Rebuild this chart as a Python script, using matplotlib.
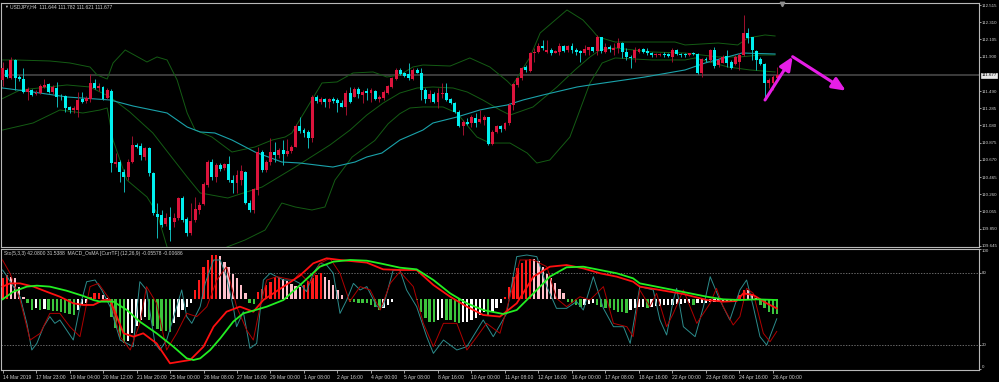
import numpy as np
import matplotlib
matplotlib.use('Agg')
import matplotlib.pyplot as plt
import matplotlib.transforms as mtransforms

plt.rcParams['font.family'] = ['Liberation Sans', 'DejaVu Sans']

# ---------------- data: USDJPY H4 candles ----------------
opens = [
    111.621, 111.740, 111.641, 111.860, 111.653, 111.633, 111.478, 111.502, 111.454, 111.470,
    111.542, 111.574, 111.478, 111.526, 111.423, 111.430, 111.295, 111.263, 111.263, 111.391,
    111.371, 111.391, 111.589, 111.522, 111.534, 111.403, 111.494, 110.620, 110.644, 110.528,
    110.469, 110.648, 110.846, 110.838, 110.707, 110.807, 110.509, 110.024, 110.012, 109.904,
    109.984, 109.932, 109.972, 110.211, 109.960, 109.801, 109.952, 110.071, 110.143, 110.369,
    110.640, 110.461, 110.608, 110.568, 110.620, 110.429, 110.389, 110.429, 110.528, 110.159,
    110.071, 110.310, 110.767, 110.548, 110.648, 110.767, 110.727, 110.787, 110.739, 110.779,
    110.826, 111.073, 111.025, 111.005, 110.926, 111.423, 111.363, 111.395, 111.363, 111.395,
    111.383, 111.351, 111.303, 111.470, 111.423, 111.510, 111.442, 111.494, 111.462, 111.494,
    111.391, 111.411, 111.470, 111.542, 111.629, 111.740, 111.701, 111.693, 111.633, 111.740,
    111.701, 111.502, 111.391, 111.454, 111.363, 111.454, 111.462, 111.391, 111.351, 111.244,
    111.073, 111.124, 111.105, 111.164, 111.120, 111.144, 111.176, 110.858, 111.005, 111.073,
    111.041, 111.105, 111.323, 111.562, 111.641, 111.780, 111.733, 111.939, 111.959, 112.027,
    111.959, 111.979, 111.947, 111.959, 112.027, 111.979, 112.027, 111.979, 111.967, 111.947,
    111.979, 112.011, 111.971, 112.130, 111.959, 112.011, 111.979, 111.999, 112.058, 111.959,
    111.899, 111.880, 111.959, 111.987, 111.971, 111.947, 111.915, 111.919, 111.935, 111.927,
    111.899, 111.979, 111.935, 111.931, 111.915, 111.947, 111.931, 111.701, 111.876, 111.860,
    111.979, 111.800, 111.828, 111.907, 111.836, 111.812, 111.840, 111.919, 112.178, 112.130,
    111.971, 111.868, 111.812, 111.582, 111.589, 111.644]
highs = [
    111.840, 111.760, 111.899, 111.868, 111.681, 111.760, 111.534, 111.518, 111.502, 111.574,
    111.629, 111.589, 111.562, 111.601, 111.454, 111.442, 111.311, 111.311, 111.482, 111.482,
    111.430, 111.693, 111.629, 111.582, 111.550, 111.522, 111.510, 110.747, 110.667, 110.556,
    110.675, 110.954, 110.874, 110.874, 110.826, 110.826, 110.528, 110.151, 110.071, 110.032,
    110.111, 110.032, 110.230, 110.238, 109.992, 110.151, 110.230, 110.171, 110.409, 110.667,
    110.675, 110.628, 110.636, 110.636, 110.715, 110.489, 110.548, 110.608, 110.540, 110.191,
    110.330, 110.826, 110.787, 110.667, 110.926, 110.886, 110.807, 110.906, 110.914, 110.846,
    111.097, 111.184, 111.045, 111.025, 111.442, 111.442, 111.415, 111.411, 111.411, 111.423,
    111.403, 111.383, 111.502, 111.542, 111.542, 111.542, 111.502, 111.522, 111.522, 111.502,
    111.442, 111.502, 111.562, 111.661, 111.760, 111.760, 111.721, 111.820, 111.760, 111.760,
    111.760, 111.522, 111.502, 111.482, 111.522, 111.582, 111.582, 111.403, 111.363, 111.263,
    111.144, 111.164, 111.204, 111.224, 111.263, 111.204, 111.184, 111.025, 111.085, 111.085,
    111.124, 111.343, 111.582, 111.661, 111.780, 111.800, 111.959, 111.999, 112.058, 112.098,
    112.098, 111.999, 111.979, 112.058, 112.039, 112.039, 112.058, 111.999, 111.979, 112.039,
    112.019, 112.019, 112.158, 112.138, 112.058, 112.039, 112.058, 112.118, 112.078, 111.999,
    111.919, 112.019, 111.999, 111.999, 111.999, 111.959, 111.939, 111.947, 111.959, 111.939,
    111.999, 111.987, 111.947, 111.939, 111.947, 111.959, 111.939, 111.880, 111.899, 111.987,
    112.019, 111.880, 111.919, 111.979, 111.860, 111.919, 111.939, 112.396, 112.237, 112.138,
    111.979, 111.899, 111.820, 111.641, 111.681, 111.782]
lows = [
    111.550, 111.641, 111.629, 111.502, 111.613, 111.470, 111.383, 111.430, 111.442, 111.454,
    111.522, 111.470, 111.454, 111.303, 111.383, 111.244, 111.224, 111.232, 111.184, 111.343,
    111.351, 111.363, 111.510, 111.494, 111.383, 111.391, 110.528, 110.588, 110.409, 110.290,
    110.429, 110.628, 110.807, 110.667, 110.667, 110.477, 110.012, 109.734, 109.873, 109.881,
    109.706, 109.873, 109.952, 109.932, 109.761, 109.773, 109.932, 110.024, 110.131, 110.350,
    110.429, 110.409, 110.540, 110.548, 110.409, 110.270, 110.270, 110.369, 110.143, 110.052,
    110.032, 110.250, 110.528, 110.528, 110.608, 110.648, 110.687, 110.608, 110.715, 110.747,
    110.819, 110.993, 110.946, 110.807, 110.886, 111.343, 111.335, 111.295, 111.283, 111.343,
    111.244, 111.295, 111.204, 111.351, 111.415, 111.403, 111.343, 111.383, 111.363, 111.383,
    111.363, 111.383, 111.454, 111.522, 111.621, 111.681, 111.661, 111.621, 111.621, 111.701,
    111.383, 111.343, 111.363, 111.343, 111.283, 111.403, 111.375, 111.335, 111.232, 111.065,
    110.966, 111.085, 111.065, 111.065, 111.105, 111.085, 110.846, 110.846, 110.985, 111.005,
    111.025, 111.085, 111.263, 111.542, 111.621, 111.721, 111.721, 111.840, 111.939, 111.979,
    111.939, 111.919, 111.939, 111.919, 111.959, 111.959, 111.939, 111.919, 111.840, 111.919,
    111.919, 111.959, 111.919, 111.939, 111.939, 111.959, 111.919, 111.939, 111.880, 111.860,
    111.760, 111.840, 111.939, 111.939, 111.919, 111.899, 111.899, 111.907, 111.899, 111.899,
    111.840, 111.919, 111.899, 111.899, 111.907, 111.919, 111.693, 111.653, 111.840, 111.840,
    111.760, 111.780, 111.820, 111.780, 111.748, 111.800, 111.740, 111.907, 112.058, 111.860,
    111.740, 111.800, 111.383, 111.522, 111.502, 111.621]
closes = [
    111.760, 111.653, 111.860, 111.641, 111.629, 111.482, 111.510, 111.446, 111.470, 111.550,
    111.562, 111.482, 111.534, 111.423, 111.415, 111.283, 111.263, 111.283, 111.383, 111.363,
    111.403, 111.589, 111.522, 111.550, 111.391, 111.502, 110.628, 110.648, 110.528, 110.469,
    110.648, 110.846, 110.826, 110.727, 110.807, 110.509, 110.032, 109.992, 109.893, 109.972,
    109.833, 109.972, 110.211, 109.952, 109.801, 109.944, 110.079, 110.131, 110.381, 110.640,
    110.469, 110.608, 110.556, 110.620, 110.429, 110.389, 110.489, 110.540, 110.159, 110.071,
    110.318, 110.767, 110.548, 110.648, 110.767, 110.727, 110.787, 110.739, 110.779, 110.826,
    111.073, 111.017, 110.993, 110.926, 111.423, 111.371, 111.395, 111.363, 111.395, 111.375,
    111.351, 111.303, 111.470, 111.363, 111.510, 111.454, 111.482, 111.462, 111.502, 111.391,
    111.423, 111.482, 111.550, 111.641, 111.740, 111.693, 111.669, 111.641, 111.740, 111.709,
    111.502, 111.391, 111.454, 111.363, 111.462, 111.470, 111.383, 111.351, 111.244, 111.073,
    111.124, 111.097, 111.176, 111.113, 111.152, 111.184, 110.858, 111.005, 111.073, 111.033,
    111.113, 111.323, 111.574, 111.641, 111.760, 111.740, 111.947, 111.959, 112.027, 111.999,
    111.979, 111.939, 111.967, 112.027, 111.971, 112.027, 111.979, 111.959, 111.939, 111.987,
    112.011, 111.971, 112.130, 111.971, 112.011, 111.987, 111.999, 112.058, 111.959, 111.891,
    111.880, 111.979, 111.987, 111.959, 111.939, 111.919, 111.927, 111.935, 111.915, 111.907,
    111.979, 111.931, 111.915, 111.915, 111.939, 111.931, 111.701, 111.868, 111.860, 111.979,
    111.788, 111.860, 111.899, 111.828, 111.760, 111.891, 111.919, 112.178, 112.118, 111.979,
    111.860, 111.812, 111.582, 111.621, 111.653, 111.677]

# Bollinger bands and moving average (read at sample bars)
bb_up_x = [0, 3.0, 11.3, 16.1, 20.9, 22.6, 25.0, 26.4, 29.3, 34.5, 36.9, 39.3, 41.7, 44.1, 46.0, 50.0,
           54.8, 60.3, 64.4, 67.5, 69.1, 76.3, 79.9, 83.7, 88.5, 91.8, 94.9, 98.0, 100.4, 106.9, 111.6,
           116.4, 120.5, 121.7, 126.0, 128.4, 134.8, 138.6, 140.8, 142.2, 146.3, 155.1, 160.6, 163.0,
           170.9, 175.6, 178.0, 182.1, 184.5]
bb_up = [111.860, 111.860, 111.848, 111.824, 111.776, 111.681, 111.633, 111.824, 111.979, 111.836,
         111.896, 111.860, 111.621, 111.228, 111.025, 110.942, 110.763, 110.823, 110.906, 110.942,
         110.990, 111.586, 111.598, 111.705, 111.717, 111.657, 111.681, 111.776, 111.800, 111.788,
         111.884, 111.776, 111.610, 111.550, 111.896, 112.182, 112.456, 112.337, 112.217, 112.134,
         112.074, 112.074, 112.074, 112.039, 112.062, 112.039, 112.122, 112.158, 112.146]
bb_mid_x = [0, 4.2, 15.4, 20.9, 25.7, 30.4, 35.9, 40.0, 44.1, 47.2, 53.8, 62.0, 69.9, 78.2, 83.0, 87.0,
            90.9, 94.9, 99.0, 102.8, 107.6, 111.0, 114.7, 118.8, 121.2, 126.7, 132.4, 136.7, 140.3,
            142.7, 146.3, 155.1, 163.0, 170.9, 176.1, 180.9, 184.5]
bb_mid = [111.400, 111.502, 111.562, 111.538, 111.419, 111.240, 110.990, 110.727, 110.465, 110.275,
          110.215, 110.346, 110.584, 110.847, 111.025, 111.204, 111.347, 111.466, 111.526, 111.538,
          111.526, 111.478, 111.383, 111.264, 111.204, 111.300, 111.538, 111.741, 111.896, 111.979,
          112.003, 111.955, 111.943, 111.896, 111.896, 111.919, 111.919]
bb_lo_x = [0, 7.3, 13.7, 19.2, 23.3, 25.0, 26.4, 29.7, 34.5, 36.9, 39.3, 41.2, 44.8, 48.4, 50.7, 53.6,
           57.9, 62.7, 66.7, 69.9, 73.9, 77.0, 79.4, 83.5, 88.9, 92.1, 94.9, 97.3, 100.4, 105.2, 108.5,
           113.3, 116.4, 121.2, 125.3, 127.6, 130.7, 135.5, 140.3, 143.2, 146.3, 155.1, 163.0, 165.4,
           173.3, 178.5, 184.5]
bb_lo = [111.025, 111.109, 111.264, 111.228, 111.264, 111.288, 110.906, 110.429, 110.227, 110.036,
         109.631, 109.535, 109.452, 109.452, 109.535, 109.631, 109.714, 109.833, 110.155, 110.108,
         110.072, 110.108, 110.429, 110.704, 110.900, 111.100, 111.220, 111.288, 111.300, 111.300,
         111.228, 110.942, 110.870, 110.870, 110.751, 110.632, 110.668, 110.942, 111.586, 111.824,
         111.884, 111.860, 111.860, 111.884, 111.776, 111.741, 111.717]
ma_x = [0, 7.3, 15.4, 25.7, 31.2, 39.3, 44.1, 47.2, 50.7, 54.8, 60.3, 66.7, 71.0, 78.9, 84.2, 87.0,
        90.6, 94.9, 100.4, 102.8, 108.5, 114.0, 116.4, 120.5, 124.3, 129.1, 137.2, 140.3, 153.4, 163.0,
        167.8, 176.6, 184.5]
ma = [111.526, 111.478, 111.419, 111.383, 111.311, 111.228, 111.061, 111.002, 110.990, 110.906,
      110.763, 110.644, 110.632, 110.584, 110.644, 110.704, 110.751, 110.906, 111.025, 111.109,
      111.180, 111.264, 111.288, 111.323, 111.383, 111.443, 111.538, 111.562, 111.657, 111.741,
      111.824, 111.943, 111.931]

# ---------------- data: lower window ----------------
osma_zero = 58.3
osma = [
    17.5, 20.3, 18.9, 17.5, 10.6, 2.2, -3.3, -8.5, -7.5, -8.5,
    -7.8, -8.6, -9.5, -10.0, -10.8, -11.5, -12.5, -13.0, -9.0, -4.5,
    -3.0, 2.2, 5.0, 5.3, 4.0, 1.0, -14.5, -24.0, -31.0, -36.5,
    -35.0, -28.0, -22.5, -17.0, -14.5, -17.0, -22.5, -25.0, -26.0, -26.5,
    -27.0, -20.0, -14.5, -9.0, -6.0, -3.3, 7.8, 16.0, 27.0, 32.8,
    36.7, 37.0, 36.5, 31.0, 27.0, 21.5, 17.5, 12.0, 5.0, -3.3,
    -3.5, 6.4, 9.0, 12.0, 14.7, 18.9, 19.0, 17.0, 15.0, 13.0,
    11.0, 10.0, 12.0, 15.0, 18.0, 20.5, 22.0, 19.0, 16.0, 12.0,
    8.0, 4.0, 0.5, -2.0, -2.5, -2.8, -3.0, -3.3, -4.7, -6.0,
    -8.9, -7.5, -4.7, -2.0, 0.5, 0.3, 0.6, 0.3, 0.5, -0.5,
    -10.3, -15.8, -18.6, -18.9, -17.5, -15.8, -17.0, -17.2, -18.6, -20.0,
    -18.6, -18.5, -17.2, -15.8, -13.0, -10.3, -13.0, -10.3, -7.5, -3.3,
    2.2, 10.5, 18.9, 25.8, 30.0, 32.8, 34.0, 33.5, 32.0, 27.0,
    21.5, 17.5, 13.3, 9.0, 5.0, -2.0, -3.3, -4.7, -6.0, -5.0,
    -3.5, -3.3, -4.7, -6.0, -7.5, -7.6, -8.9, -10.3, -10.4, -11.7,
    -8.9, -7.5, -6.5, -6.2, -7.0, -6.0, -5.8, -5.6, -4.7, -4.6,
    -4.5, -4.0, -3.9, -3.3, -3.2, -4.5, -3.3, -2.8, -2.7, -2.0,
    -1.9, -1.8, -1.7, -1.4, -1.1, -1.0, 4.0, 7.8, 7.5, 4.0,
    1.0, -5.0, -7.5, -10.3, -12.5, -12.6]

sto_x = [0, 0.6, 2.6, 4.2, 5.8, 7.0, 8.2, 9.8, 11.3, 12.5, 13.7, 15.3, 16.9, 18.5, 20.1, 22.1, 23.7, 25.7,
         28.1, 31.2, 32.8, 34.4, 36.4, 37.6, 39.2, 42.8, 44.0, 45.2, 47.2, 48.4, 50.4, 52.0, 53.5, 55.1,
         55.9, 57.5, 59.1, 60.7, 62.3, 63.9, 67.1, 69.5, 71.0, 72.6, 74.2, 75.8, 77.4, 79.0, 80.6, 82.2,
         83.8, 85.4, 87.0, 89.4, 90.9, 93.3, 94.9, 96.5, 98.9, 101.3, 102.9, 105.3, 108.5, 110.9, 114.8,
         117.2, 120.4, 122.8, 125.2, 127.6, 130.0, 132.3, 134.7, 137.1, 138.7, 141.1, 143.5, 145.9, 148.3,
         149.9, 152.2, 155.4, 157.0, 158.6, 160.2, 161.0, 162.6, 165.4, 167.4, 169.0, 171.3, 173.7, 176.1,
         177.7, 179.3, 180.9, 182.5, 184.9]
sto_main = [82.75, 80, 68.9, 60.5, 38.3, 16.1, 21.6, 35.5, 43.9, 38.3, 41.1, 32.75, 24.4, 52.2, 73, 74.4,
            66.1, 52.2, 24.4, 18.9, 73, 66.1, 21.6, 16.1, 24.4, 66.1, 43.9, 38.3, 52.2, 71.6, 91.1, 91.1,
            77.2, 52.2, 35.5, 48, 17.5, 21.6, 74.4, 80, 74.4, 74.4, 71.6, 64.7, 80, 88.3, 86.9, 80, 46.6,
            57.75, 71.6, 66.1, 68.9, 52.2, 52.2, 82.75, 82.75, 66.1, 52.2, 27.2, 13.3, 24.4, 16.1, 18.9,
            41.1, 27.2, 46.6, 93.9, 95.25, 93.9, 68.9, 50.8, 50.8, 56.4, 49.4, 77.2, 50.8, 35.5, 35.5,
            21.6, 68.9, 66.1, 41.1, 28.6, 57.75, 67.5, 35.5, 27.2, 52.2, 77.2, 57.75, 41.1, 66.1, 74.4,
            52.2, 27.2, 20.2, 42.08]
sig_x = [0, 1.8, 4.2, 6.6, 9.0, 11.3, 13.7, 16.1, 18.5, 20.9, 22.9, 25.7, 28.1, 30.5, 32.8, 34.4, 36.8,
         39.2, 41.6, 44.0, 46.4, 48.8, 51.2, 53.5, 55.9, 58.3, 59.9, 61.5, 63.1, 65.5, 69.5, 71.0, 73.4,
         75.8, 78.2, 80.6, 82.9, 85.4, 87.8, 90.2, 92.6, 94.9, 98.1, 100.5, 102.9, 105.3, 108.5, 110.9,
         113.3, 115.6, 118.8, 121.2, 123.6, 126.8, 130.0, 132.3, 134.7, 137.9, 140.3, 143.5, 145.9, 149.1,
         150.6, 152.2, 154.6, 156.2, 158.6, 160.2, 162.6, 165.8, 169.0, 170.5, 172.1, 174.5, 176.1, 177.7,
         179.3, 181.7, 183.3, 184.9]
sto_sig = [91.1, 80, 57.75, 24.4, 30, 46.6, 46.6, 35.5, 27.2, 68.9, 71.6, 57.75, 27.2, 16.1, 38.3, 68.9,
           55, 16.1, 30, 46.6, 43.9, 52.2, 74.4, 85.5, 52.2, 32.75, 24.4, 52.2, 74.4, 77.2, 74.4, 80, 71.6,
           88.3, 92.5, 80, 56.4, 68.9, 66.1, 49.4, 71.6, 81.4, 68.9, 38.3, 18.9, 38.3, 38.3, 16.1, 27.2,
           38.3, 30, 60.5, 91.1, 91.1, 85.5, 59.1, 52.2, 60.5, 57.75, 68.9, 38.3, 35.5, 27.2, 66.1, 52.2,
           63.3, 35.5, 46.6, 66.1, 38.3, 55, 67.5, 52.2, 36.9, 43.9, 67.5, 63.3, 30, 23, 31.54]
macd_x = [0, 1.8, 4.2, 7.4, 10.5, 13.7, 16.9, 19.3, 21.7, 24.1, 25.7, 28.9, 31.3, 33.6, 36.8, 40.0, 42.4,
          44.8, 48.0, 50.4, 53.5, 56.7, 59.9, 62.3, 67.1, 71.0, 74.2, 77.4, 80.6, 87.0, 90.9, 94.9, 98.9,
          102.9, 106.9, 110.9, 114.8, 118.8, 122.8, 126.8, 130.7, 134.7, 138.7, 142.7, 146.7, 150.6, 152.2,
          157.0, 162.6, 168.2, 172.1, 175.3, 176.9, 179.3, 182.5, 184.9]
macd = [68.9, 71.6, 71.6, 68.9, 64.7, 60.5, 55, 53.6, 53.6, 57.75, 57.75, 30, 27.2, 30, 21.6, 5, 6.4, 7.75,
        18.9, 35.5, 48, 52.2, 48, 57.75, 68.9, 78, 88.3, 92.5, 91.1, 88.9, 83.3, 82.75, 82.75, 70.25, 60.5,
        52.2, 45.25, 43.9, 55, 77.2, 85.5, 86.9, 84.1, 80, 77.2, 73, 68.9, 66.1, 62.75, 57.75, 56.4, 56.9,
        63.3, 61.9, 55, 50.8]
signal_x = [0, 2.6, 5.8, 8.2, 11.3, 15.3, 19.3, 21.7, 23.3, 26.5, 29.7, 32.8, 36.8, 40.8, 44.0, 45.6, 47.2,
            49.6, 52.0, 55.1, 57.5, 59.9, 63.1, 67.1, 71.0, 75.8, 79.0, 83.0, 87.0, 90.9, 94.9, 98.9, 102.9,
            106.9, 110.9, 114.8, 119.6, 122.8, 126.8, 130.7, 134.7, 138.7, 142.7, 146.7, 150.6, 152.2, 160.2,
            164.2, 168.2, 172.1, 176.1, 180.1, 184.9]
signal = [58.3, 64.7, 68.9, 69.7, 68.9, 65.5, 61.1, 57.75, 56.4, 56.4, 49.4, 39.7, 30, 18.9, 9.1, 7.75, 9.1,
          16.1, 25.8, 39.7, 46.6, 48.9, 52.2, 57.75, 70, 85.5, 89.7, 91.1, 90.5, 87.75, 84.7, 83.3, 74.4,
          63.3, 55, 49.4, 46.1, 49.4, 63.3, 77.2, 85, 85.5, 82.75, 80, 75.8, 71.6, 66.1, 63.3, 60.5, 58.3,
          57.75, 58.3, 57.75]

price_ticks = [112.515, 112.310, 112.105, 111.900, 111.490, 111.285, 111.080, 110.875, 110.670,
               110.465, 110.260, 110.055, 109.850, 109.645]
bid = 111.677
time_labels = ['14 Mar 2019', '17 Mar 23:00', '19 Mar 04:00', '20 Mar 12:00', '21 Mar 20:00',
               '25 Mar 00:00', '26 Mar 08:00', '27 Mar 16:00', '29 Mar 00:00', '1 Apr 08:00',
               '2 Apr 16:00', '4 Apr 00:00', '5 Apr 08:00', '8 Apr 16:00', '10 Apr 00:00',
               '11 Apr 08:00', '12 Apr 16:00', '16 Apr 00:00', '17 Apr 08:00', '18 Apr 16:00',
               '22 Apr 00:00', '23 Apr 08:00', '24 Apr 16:00', '26 Apr 00:00']
arrow_up = [(182.1, 111.383), (188.7, 111.899)]
arrow_dn = [(188.7, 111.899), (201.4, 111.494)]

# ---------------- figure ----------------
W, H = 999.0, 382.0
fig = plt.figure(figsize=(9.99, 3.82), dpi=100, facecolor='black')
ax1 = fig.add_axes([1 / W, 1 - 247 / H, 978 / W, 244 / H], facecolor='black')
ax2 = fig.add_axes([1 / W, 1 - 370 / H, 978 / W, 121 / H], facecolor='black')

fg = '#b8b8b8'
txt = '#d0d0d0'
fs = 3.6
fsy = 3.15
for ax in (ax1, ax2):
    ax.set_xlim(-0.36, 233.2)
    for s in ax.spines.values():
        s.set_color(fg)
        s.set_linewidth(0.8)
    ax.yaxis.tick_right()
    ax.tick_params(axis='y', direction='out', length=1.6, width=0.6, colors=fg,
                   labelcolor=txt, labelsize=fsy, pad=0.6)

# ---- main chart ----
ax1.set_ylim(109.631, 112.539)
ax1.set_xticks([])
ax1.set_yticks(price_ticks)
ax1.set_yticklabels(['%.3f' % p for p in price_ticks])

ax1.axhline(bid, color='#3c3c3c', lw=1.4, zorder=1)

ax1.plot(bb_up_x, bb_up, color='#145c14', lw=0.7, zorder=2)
ax1.plot(bb_mid_x, bb_mid, color='#145c14', lw=0.7, zorder=2)
ax1.plot(bb_lo_x, bb_lo, color='#145c14', lw=0.7, zorder=2)
ax1.plot(ma_x, ma, color='#1aa2aa', lw=0.8, zorder=2)

n = len(closes)
idx = np.arange(n)
o = np.array(opens)
c = np.array(closes)
bull = c >= o
body_col = np.where(bull, '#dc143c', '#00f0f0')
wick_col = np.where(bull, '#a0102e', '#10b8b8')
ax1.vlines(idx, lows, highs, colors=wick_col, lw=0.7, zorder=3)
ax1.bar(idx, np.maximum(np.abs(c - o), 0.008), bottom=np.minimum(o, c), width=0.7,
        color=body_col, linewidth=0, zorder=4)

for start, end in (arrow_up, arrow_dn):
    ax1.annotate('', xy=end, xytext=start, zorder=6,
                 arrowprops=dict(arrowstyle='-|>,head_length=0.8,head_width=0.35',
                                 color='#e61ee6', lw=2.2, mutation_scale=10,
                                 shrinkA=0, shrinkB=0))

trans = mtransforms.blended_transform_factory(ax1.transAxes, ax1.transData)
ax1.text(1.0025, bid, '%.3f' % bid, transform=trans, fontsize=fsy, color='black',
         va='center', ha='left', clip_on=False,
         bbox=dict(boxstyle='square,pad=0.15', fc='#e8e8e8', ec='#e8e8e8', lw=0.5))

fig.text(4.5 / W, 1 - 7 / H, '\u25bc', fontsize=2.8, color=txt, va='center', ha='left')
fig.text(10 / W, 1 - 7 / H, 'USDJPY,H4  111.644 111.782 111.621 111.677', fontsize=fs,
         color=txt, va='center', ha='left')
tshift = mtransforms.blended_transform_factory(ax1.transData, ax1.transAxes)
ax1.plot([186.1], [0.995], marker='v', ms=3.2, color='#8c8c8c', transform=tshift,
         clip_on=False, zorder=7)

# ---- lower window ----
ax2.set_ylim(-0.58, 100.25)
ax2.set_yticks([100, 80, 20, 0])
ax2.set_yticklabels(['100', '80', '20', '0'])
for lab, va in zip(ax2.get_yticklabels(), ['top', 'center', 'center', 'bottom']):
    lab.set_va(va)
ax2.axhline(80, color='#909090', lw=0.5, ls=(0, (2, 2)), zorder=1)
ax2.axhline(20, color='#909090', lw=0.5, ls=(0, (2, 2)), zorder=1)

hist_col = []
for i, v in enumerate(osma):
    prev = osma[i - 1] if i else v
    if v >= 0:
        hist_col.append('#ff1a1a' if v >= prev else '#ffc0cb')
    else:
        hist_col.append('#3cc43c' if v < prev else '#ffffff')
ax2.bar(idx, osma, bottom=osma_zero, width=0.55, color=hist_col, linewidth=0, zorder=2)

ax2.plot(sto_x, sto_main, color='#2c8c8c', lw=0.7, zorder=3)
ax2.plot(sig_x, sto_sig, color='#b00000', lw=0.7, zorder=3)
ax2.plot(macd_x, macd, color='#ff1010', lw=1.3, zorder=4)
ax2.plot(signal_x, signal, color='#22ee22', lw=1.3, zorder=5)

ax2.set_xticks(np.arange(0, 8 * len(time_labels), 8))
ax2.set_xticklabels(time_labels, ha='left')
ax2.tick_params(axis='x', direction='out', length=2.2, width=0.6, colors=fg,
                labelcolor=txt, labelsize=fs, pad=1.5)

fig.text(4 / W, 1 - 254 / H,
         'Sto(5,3,3) 42.0800 31.5388  MACD_OsMA [CurrTF] (12,26,9) -0.05578 -0.00686',
         fontsize=fs, color=txt, va='center', ha='left')

fig.savefig('out.png', dpi=100, facecolor='black')
